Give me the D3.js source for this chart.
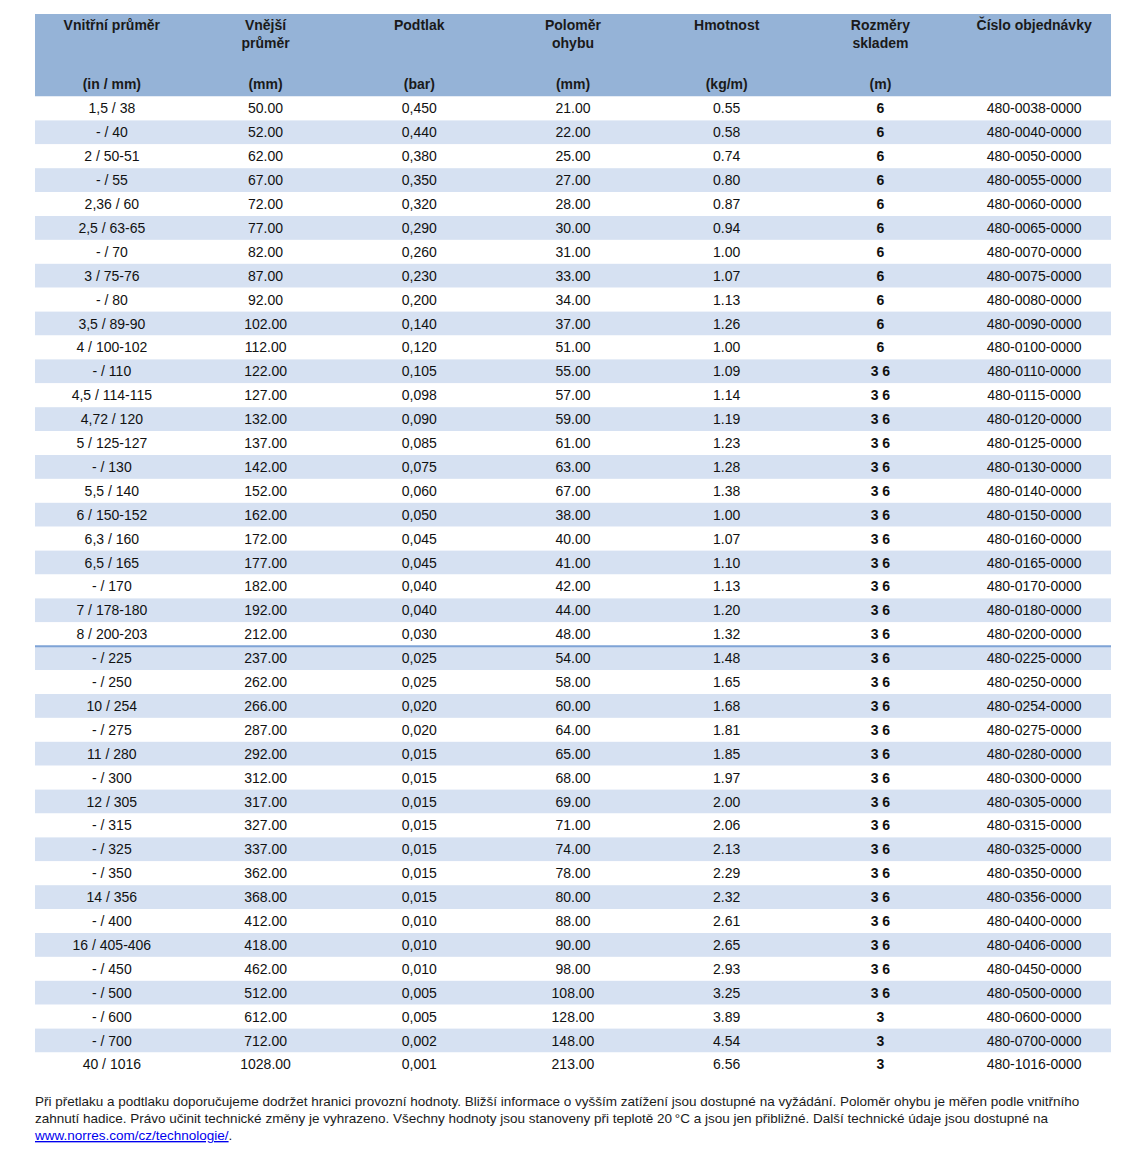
<!DOCTYPE html>
<html>
<head>
<meta charset="utf-8">
<script src="https://cdn.jsdelivr.net/npm/d3@7"></script>
<style>
  body { margin: 0; background: #fff; }
  svg { font-family: "Liberation Sans", Arial, sans-serif; }
</style>
</head>
<body>
<div id="chart"></div>
<script>
const headers = [
  ["Vnitřní průměr"], ["Vnější", "průměr"], ["Podtlak"], ["Poloměr", "ohybu"],
  ["Hmotnost"], ["Rozměry", "skladem"], ["Číslo objednávky"]
];
const units = ["(in / mm)", "(mm)", "(bar)", "(mm)", "(kg/m)", "(m)", ""];

const innerDia = ["1,5 / 38", "- / 40", "2 / 50-51", "- / 55", "2,36 / 60", "2,5 / 63-65", "- / 70",
  "3 / 75-76", "- / 80", "3,5 / 89-90", "4 / 100-102", "- / 110", "4,5 / 114-115", "4,72 / 120",
  "5 / 125-127", "- / 130", "5,5 / 140", "6 / 150-152", "6,3 / 160", "6,5 / 165", "- / 170",
  "7 / 178-180", "8 / 200-203", "- / 225", "- / 250", "10 / 254", "- / 275", "11 / 280", "- / 300",
  "12 / 305", "- / 315", "- / 325", "- / 350", "14 / 356", "- / 400", "16 / 405-406", "- / 450",
  "- / 500", "- / 600", "- / 700", "40 / 1016"];
const outerDia = [50, 52, 62, 67, 72, 77, 82, 87, 92, 102, 112, 122, 127, 132, 137, 142, 152, 162,
  172, 177, 182, 192, 212, 237, 262, 266, 287, 292, 312, 317, 327, 337, 362, 368, 412, 418, 462,
  512, 612, 712, 1028];
const vacuum = ["0,450", "0,440", "0,380", "0,350", "0,320", "0,290", "0,260", "0,230", "0,200",
  "0,140", "0,120", "0,105", "0,098", "0,090", "0,085", "0,075", "0,060", "0,050", "0,045", "0,045",
  "0,040", "0,040", "0,030", "0,025", "0,025", "0,020", "0,020", "0,015", "0,015", "0,015", "0,015",
  "0,015", "0,015", "0,015", "0,010", "0,010", "0,010", "0,005", "0,005", "0,002", "0,001"];
const bendRadius = [21, 22, 25, 27, 28, 30, 31, 33, 34, 37, 51, 55, 57, 59, 61, 63, 67, 38, 40, 41,
  42, 44, 48, 54, 58, 60, 64, 65, 68, 69, 71, 74, 78, 80, 88, 90, 98, 108, 128, 148, 213];
const weight = [0.55, 0.58, 0.74, 0.80, 0.87, 0.94, 1.00, 1.07, 1.13, 1.26, 1.00, 1.09, 1.14, 1.19,
  1.23, 1.28, 1.38, 1.00, 1.07, 1.10, 1.13, 1.20, 1.32, 1.48, 1.65, 1.68, 1.81, 1.85, 1.97, 2.00,
  2.06, 2.13, 2.29, 2.32, 2.61, 2.65, 2.93, 3.25, 3.89, 4.54, 6.56];
const stock = ["6", "6", "6", "6", "6", "6", "6", "6", "6", "6", "6", "3 6", "3 6", "3 6", "3 6",
  "3 6", "3 6", "3 6", "3 6", "3 6", "3 6", "3 6", "3 6", "3 6", "3 6", "3 6", "3 6", "3 6", "3 6",
  "3 6", "3 6", "3 6", "3 6", "3 6", "3 6", "3 6", "3 6", "3 6", "3", "3", "3"];
const orderNo = ["480-0038-0000", "480-0040-0000", "480-0050-0000", "480-0055-0000", "480-0060-0000",
  "480-0065-0000", "480-0070-0000", "480-0075-0000", "480-0080-0000", "480-0090-0000", "480-0100-0000",
  "480-0110-0000", "480-0115-0000", "480-0120-0000", "480-0125-0000", "480-0130-0000", "480-0140-0000",
  "480-0150-0000", "480-0160-0000", "480-0165-0000", "480-0170-0000", "480-0180-0000", "480-0200-0000",
  "480-0225-0000", "480-0250-0000", "480-0254-0000", "480-0275-0000", "480-0280-0000", "480-0300-0000",
  "480-0305-0000", "480-0315-0000", "480-0325-0000", "480-0350-0000", "480-0356-0000", "480-0400-0000",
  "480-0406-0000", "480-0450-0000", "480-0500-0000", "480-0600-0000", "480-0700-0000", "480-1016-0000"];

const footer = [
  "Při přetlaku a podtlaku doporučujeme dodržet hranici provozní hodnoty. Bližší informace o vyšším zatížení jsou dostupné na vyžádání. Poloměr ohybu je měřen podle vnitřního",
  "zahnutí hadice. Právo učinit technické změny je vyhrazeno. Všechny hodnoty jsou stanoveny při teplotě 20\u2009°C a jsou jen přibližné. Další technické údaje jsou dostupné na"
];
const link = "www.norres.com/cz/technologie/";

const rows = innerDia.map((d, i) => [
  d, outerDia[i].toFixed(2), vacuum[i], bendRadius[i].toFixed(2), weight[i].toFixed(2), stock[i], orderNo[i]
]);

const width = 1147, height = 1160;
const left = 35, right = 1111, headTop = 14, headBottom = 96.5;
const rowH = 23.9;

const svg = d3.select("#chart").append("svg")
  .attr("width", width).attr("height", height);

const x = d3.scaleBand().domain(d3.range(7)).range([left, right]);
const y = d3.scaleBand().domain(d3.range(rows.length))
  .range([headBottom, headBottom + rowH * rows.length]);

// header
svg.append("rect")
  .attr("x", left).attr("y", headTop)
  .attr("width", right - left).attr("height", headBottom - headTop)
  .attr("fill", "#95b3d7");

const head = svg.append("g").attr("font-weight", "bold").attr("font-size", 14)
  .attr("fill", "#1a1a1a").attr("text-anchor", "middle");
headers.forEach((lines, c) => {
  lines.forEach((t, k) => {
    head.append("text").attr("x", x(c) + x.bandwidth() / 2).attr("y", 30 + k * 18).text(t);
  });
  head.append("text").attr("x", x(c) + x.bandwidth() / 2).attr("y", 89).text(units[c]);
});

// rows
const rowG = svg.selectAll("g.row").data(rows).enter().append("g").attr("class", "row");
rowG.append("rect")
  .attr("x", left).attr("y", (d, i) => y(i))
  .attr("width", right - left).attr("height", y.bandwidth())
  .attr("fill", (d, i) => i % 2 ? "#d6e1f2" : "#ffffff");

rowG.selectAll("text").data((d, i) => d.map(v => ({ v, i }))).enter().append("text")
  .attr("x", (d, c) => x(c) + x.bandwidth() / 2)
  .attr("y", d => y(d.i) + y.bandwidth() / 2 + 5)
  .attr("text-anchor", "middle")
  .attr("font-size", 14)
  .attr("font-weight", (d, c) => c === 5 ? "bold" : "normal")
  .attr("fill", "#111")
  .text(d => d.v);

// separator line above "- / 225"
svg.append("line")
  .attr("x1", left).attr("x2", right)
  .attr("y1", y(23)).attr("y2", y(23))
  .attr("stroke", "#7ea3d6").attr("stroke-width", 2);

// footer
const foot = svg.append("g").attr("font-size", 13.5).attr("fill", "#1a1a1a");
footer.forEach((t, k) => {
  foot.append("text").attr("x", left).attr("y", 1106 + k * 17).text(t);
});
foot.append("text").attr("x", left).attr("y", 1140)
  .call(s => s.append("tspan").attr("fill", "#0000ee").attr("text-decoration", "underline").text(link))
  .call(s => s.append("tspan").text("."));
</script>
</body>
</html>
